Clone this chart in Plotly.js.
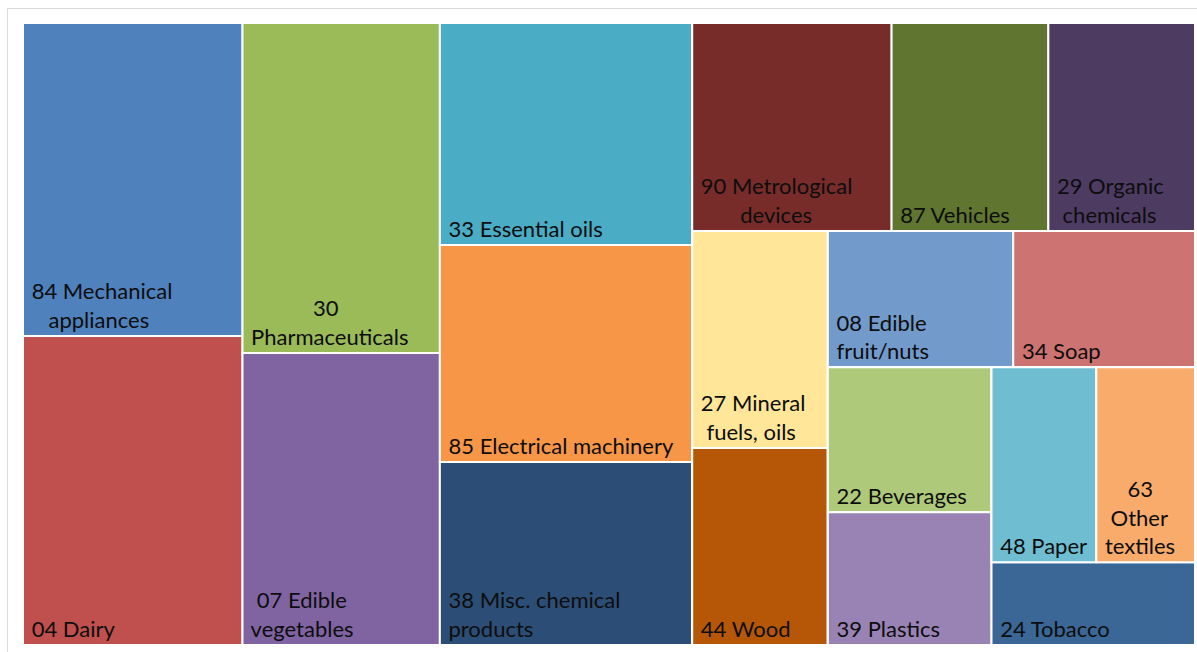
<!DOCTYPE html>
<html>
<head>
<meta charset="utf-8">
<script src="https://cdn.plot.ly/plotly-3.0.1.min.js"></script>
<style>
  html, body { margin: 0; padding: 0; background: #fff; }
  #frame { position: absolute; left: 7px; top: 8px; width: 1200px; height: 650px; border: 1px solid #d9d9d9; box-sizing: border-box; }
  #chart { position: absolute; left: 0; top: 0; width: 1197px; height: 652px; }
</style>
</head>
<body>
<div id="frame"></div>
<div id="chart"></div>
<script>
// HS chapters, largest first (relative trade value)
const codes = ['84', '04', '30', '07', '33', '85', '38', '90', '87', '29', '27', '44', '08', '34', '22', '39', '48', '63', '24'];
const labels = [
  '84 Mechanical<br>appliances', '04 Dairy', '30<br>Pharmaceuticals', '07 Edible<br>vegetables',
  '33 Essential oils', '85 Electrical machinery', '38 Misc. chemical<br>products',
  '90 Metrological<br>devices', '87 Vehicles', '29 Organic<br>chemicals',
  '27 Mineral<br>fuels, oils', '44 Wood', '08 Edible<br>fruit/nuts', '34 Soap',
  '22 Beverages', '39 Plastics', '48 Paper', '63<br>Other<br>textiles', '24 Tobacco'
];
const values = [689, 680, 653, 578, 562, 549, 463, 416, 327, 306, 295, 268, 253, 248, 238, 218, 205, 193, 169];
const colors = [
  '#4f81bd', '#c0504d', '#9bbb59', '#8064a2', '#4bacc6', '#f79646', '#2c4d75',
  '#772c2a', '#5f7530', '#4d3b62', '#ffe699', '#b65708', '#729aca', '#cd7371',
  '#afc97a', '#9983b5', '#6fbdd1', '#f9ab6b', '#3a6795'
];

// unlabeled grouping so the slice-dice tiling follows the original block layout
const groups = ['g1', 'g2', 'g3', 'g4', 'g4a', 'g4b', 'g4b1', 'g4b2', 'g4b2a', 'g4b2b', 'g5a', 'g5b', 'g6'];
const groupParents = ['', '', '', '', 'g4', 'g4', 'g4b', 'g4b', 'g4b2', 'g4b2', 'g4b2b', 'g4b2b', 'g5b'];
const leafParents = ['g1', 'g1', 'g2', 'g2', 'g3', 'g3', 'g3', 'g4a', 'g4a', 'g4a', 'g4b1', 'g4b1',
  'g4b2a', 'g4b2a', 'g5a', 'g5a', 'g6', 'g6', 'g5b'];

const FONT = 'Lato';
const FSIZE = 22;

// centre the lines of each label and indent them a little, like the original
const ctx = document.createElement('canvas').getContext('2d');
ctx.font = FSIZE + 'px ' + FONT;
const nb = '\u00a0';
const nbW = ctx.measureText(nb).width || FSIZE * 0.2;
function layoutText(s, code) {
  const lines = s.split('<br>');
  const ws = lines.map(l => ctx.measureText(l).width);
  const maxW = Math.max(...ws);
  const centre = code !== '38';
  return lines.map((l, i) => {
    const n = Math.round((4 + (centre ? (maxW - ws[i]) / 2 : 0)) / nbW);
    return nb.repeat(n) + l;
  }).join('<br>');
}

const trace = {
  type: 'treemap',
  ids: groups.concat(codes),
  labels: groups.map(() => '').concat(labels),
  parents: groupParents.concat(leafParents),
  values: groups.map(() => 0).concat(values),
  text: groups.map(() => '').concat(labels.map((l, i) => layoutText(l, codes[i]))),
  branchvalues: 'remainder',
  sort: false,
  textinfo: 'text',
  textposition: 'bottom left',
  textfont: { family: FONT + ', "Open Sans", sans-serif', size: FSIZE, color: '#0d0d0d' },
  marker: {
    colors: groups.map(() => '#ffffff').concat(colors),
    line: { color: '#fff', width: 2 },
    pad: { t: 0, l: 0, r: 0, b: 0 },
    depthfade: false
  },
  tiling: { packing: 'slice-dice', pad: 0 },
  pathbar: { visible: false },
  hoverinfo: 'label+value'
};

const layout = {
  width: 1197,
  height: 652,
  margin: { l: 23, r: 2, t: 23, b: 7 },
  paper_bgcolor: 'rgba(0,0,0,0)',
  showlegend: false
};

Plotly.newPlot('chart', [trace], layout, { displayModeBar: false, staticPlot: true });
</script>
</body>
</html>
